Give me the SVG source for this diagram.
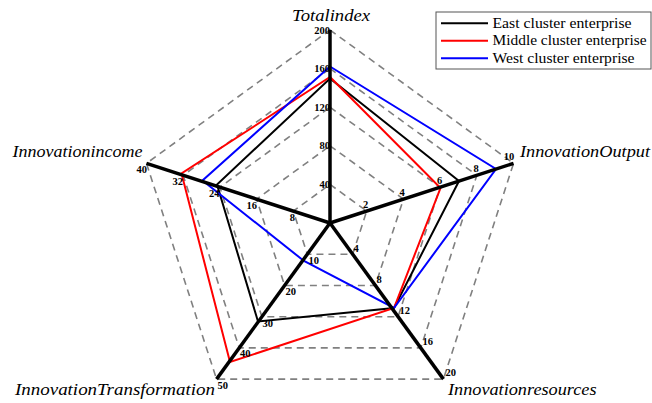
<svg xmlns="http://www.w3.org/2000/svg" width="652" height="403" viewBox="0 0 652 403">
<style>
.grid{fill:none;stroke:#808080;stroke-width:1.6;stroke-dasharray:7,5}
.axis{stroke:#000;stroke-width:3.5;stroke-linecap:butt}
.series{fill:none;stroke-width:2;stroke-linejoin:miter}
.tick{font-family:'Liberation Serif','DejaVu Serif','Times New Roman',serif;font-size:10.5px;font-weight:bold;fill:#000}
.title{font-family:'Liberation Serif','DejaVu Serif','Times New Roman',serif;font-style:italic;font-size:16px;fill:#000}
.leg{font-family:'Liberation Serif','DejaVu Serif','Times New Roman',serif;font-size:14px;fill:#000}
</style>
<rect width="652" height="403" fill="#fff"/>
<g id="grid">
<polygon class="grid" points="330,30 513.55,163.36 443.44,379.14 216.56,379.14 146.45,163.36"/>
<polygon class="grid" points="330,68.6 476.84,175.29 420.75,347.91 239.25,347.91 183.16,175.29"/>
<polygon class="grid" points="330,107.2 440.13,187.21 398.07,316.68 261.93,316.68 219.87,187.21"/>
<polygon class="grid" points="330,145.8 403.42,199.14 375.38,285.46 284.62,285.46 256.58,199.14"/>
<polygon class="grid" points="330,184.4 366.71,211.07 352.69,254.23 307.31,254.23 293.29,211.07"/>
</g>
<g id="series">
<polygon id="east" class="series" stroke="#000" points="330,78.5 459,181 394,308 258,321.5 217,184.5"/>
<polygon id="middle" class="series" stroke="#ff0000" points="330,77 440.5,188 394,308 230,362 181.5,173.5"/>
<polygon id="west" class="series" stroke="#0000ff" points="330,66.5 496,169 394,308 304,261 202.5,180.5"/>
</g>
<g id="axes">
<line class="axis" x1="330" y1="223" x2="330" y2="30"/>
<line class="axis" x1="330" y1="223" x2="513.55" y2="163.36"/>
<line class="axis" x1="330" y1="223" x2="443.44" y2="379.14"/>
<line class="axis" x1="330" y1="223" x2="216.56" y2="379.14"/>
<line class="axis" x1="330" y1="223" x2="146.45" y2="163.36"/>
</g>
<g id="ticks-total" class="tick" text-anchor="end">
<text x="330" y="33.5">200</text>
<text x="330" y="72">160</text>
<text x="330" y="110.5">120</text>
<text x="330" y="149">80</text>
<text x="330" y="188">40</text>
</g>
<g id="ticks-output" class="tick" text-anchor="middle">
<text x="509" y="159.5">10</text>
<text x="476" y="172">8</text>
<text x="439.5" y="184">6</text>
<text x="402" y="196">4</text>
<text x="365.5" y="208">2</text>
</g>
<g id="ticks-resources" class="tick">
<text x="353.5" y="251.5">4</text>
<text x="376.5" y="282.5">8</text>
<text x="399.5" y="314">12</text>
<text x="422.5" y="345">16</text>
<text x="445.5" y="376">20</text>
</g>
<g id="ticks-transformation" class="tick">
<text x="308.5" y="263.5">10</text>
<text x="285.5" y="295">20</text>
<text x="262.5" y="326.5">30</text>
<text x="240" y="357">40</text>
<text x="217.5" y="388.5">50</text>
</g>
<g id="ticks-income" class="tick" text-anchor="end">
<text x="295" y="221">8</text>
<text x="257" y="208.5">16</text>
<text x="219.5" y="196.5">24</text>
<text x="183" y="184.5">32</text>
<text x="147" y="172.5">40</text>
</g>
<g id="titles" class="title">
<text x="292" y="20.5" textLength="78" lengthAdjust="spacingAndGlyphs">Totalindex</text>
<text x="520" y="156.5" textLength="130" lengthAdjust="spacingAndGlyphs">InnovationOutput</text>
<text x="12.5" y="156.5" textLength="130" lengthAdjust="spacingAndGlyphs">Innovationincome</text>
<text x="15" y="395" textLength="200" lengthAdjust="spacingAndGlyphs">InnovationTransformation</text>
<text x="448" y="395" textLength="148.5" lengthAdjust="spacingAndGlyphs">Innovationresources</text>
</g>
<g id="legend">
<rect x="436" y="12" width="215" height="57" fill="#fff" stroke="#555" stroke-width="1"/>
<line x1="441" y1="23.3" x2="488" y2="23.3" stroke="#000" stroke-width="2"/>
<line x1="441" y1="40.7" x2="488" y2="40.7" stroke="#ff0000" stroke-width="2"/>
<line x1="441" y1="58.3" x2="488" y2="58.3" stroke="#0000ff" stroke-width="2"/>
<text class="leg" x="492.5" y="27.5" textLength="139" lengthAdjust="spacingAndGlyphs">East cluster enterprise</text>
<text class="leg" x="492.5" y="45" textLength="154" lengthAdjust="spacingAndGlyphs">Middle cluster enterprise</text>
<text class="leg" x="492.5" y="62.5" textLength="142" lengthAdjust="spacingAndGlyphs">West cluster enterprise</text>
</g>
</svg>
